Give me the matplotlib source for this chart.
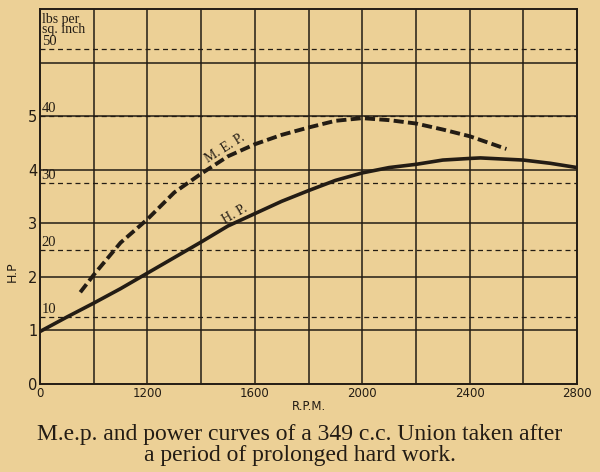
import matplotlib
matplotlib.use('Agg')
import matplotlib.pyplot as plt

# H.P. curve (solid)
hp_rpm = [800, 900, 1000, 1100, 1200, 1300, 1400, 1500, 1600, 1700, 1800,
          1900, 2000, 2100, 2200, 2300, 2400, 2440, 2600, 2700, 2800]
hp_val = [0.98, 1.25, 1.51, 1.78, 2.07, 2.36, 2.65, 2.95, 3.18, 3.41, 3.61,
          3.80, 3.94, 4.04, 4.10, 4.18, 4.21, 4.22, 4.18, 4.12, 4.04]

# M.E.P. curve (dashed), lbs per sq. inch
mep_rpm = [950, 1000, 1100, 1200, 1300, 1400, 1500, 1600, 1700, 1800,
           1900, 2000, 2100, 2200, 2300, 2400, 2537]
mep_psi = [13.7, 16.3, 21.1, 24.6, 28.6, 31.4, 34.0, 35.8, 37.2, 38.3,
           39.3, 39.7, 39.4, 38.9, 38.0, 37.0, 35.1]

x_ticks = [800, 1200, 1600, 2000, 2400, 2800]
x_tick_labels = ['0', '1200', '1600', '2000', '2400', '2800']
hp_ticks = [0, 1, 2, 3, 4, 5]
psi_ticks = [10, 20, 30, 40, 50]

bg = '#ecd096'
ink = '#231c14'
serif = 'Liberation Serif'

fig = plt.figure(figsize=(6, 4.72), dpi=100, facecolor=bg)
ax = fig.add_axes([0.0667, 0.1864, 0.895, 0.7946])
ax.set_facecolor(bg)

ax.set_xlim(800, 2800)
ax.set_ylim(0, 7)

# grid: every 200 rpm, every 1 HP
for xv in range(1000, 2800, 200):
    ax.axvline(xv, color=ink, lw=1.1, zorder=1)
for yv in range(1, 7):
    ax.axhline(yv, color=ink, lw=1.1, zorder=1)
for s in ax.spines.values():
    s.set_color(ink)
    s.set_linewidth(1.4)

# pressure scale on a twin axis (0-56 lbs/sq.in over the same height)
ax2 = ax.twinx()
ax2.set_ylim(0, 56)
for p in psi_ticks:
    ax2.axhline(p, color=ink, lw=0.9, ls=(0, (4, 3)), zorder=1)
    ax2.text(806, p + 0.2, str(p), fontsize=10.5, color=ink, ha='left', va='bottom',
             family=serif)
ax2.set_yticks([])
for s in ax2.spines.values():
    s.set_visible(False)

ax.plot(hp_rpm, hp_val, color=ink, lw=2.6, solid_capstyle='round', zorder=3)
ax2.plot(mep_rpm, mep_psi, color=ink, lw=2.8, ls=(0, (2.6, 1.1)), zorder=3)

ax.text(1470, 2.93, 'H. P.', fontsize=10, color=ink, rotation=30, ha='left', va='bottom',
        family=serif)
ax2.text(1405, 32.6, 'M. E. P.', fontsize=10, color=ink, rotation=32, ha='left', va='bottom',
         family=serif)
ax2.text(806, 52.0, 'lbs per\nsq. inch', fontsize=10, color=ink, ha='left', va='bottom',
         linespacing=0.72, family=serif)

ax.set_xticks(x_ticks)
ax.set_xticklabels(x_tick_labels, fontsize=8.5, color=ink)
ax.set_yticks(hp_ticks)
ax.set_yticklabels([str(v) for v in hp_ticks], fontsize=10.5, color=ink)
ax.tick_params(length=0, pad=2)
ax.set_xlabel('R.P.M.', fontsize=8.5, color=ink, labelpad=0)
ax.set_ylabel('H.P', fontsize=9, color=ink)
ax.yaxis.set_label_coords(-0.04, 0.30)

fig.text(0.5, 0.080, 'M.e.p. and power curves of a 349 c.c. Union taken after',
         ha='center', va='center', fontsize=17, color=ink, family=serif)
fig.text(0.5, 0.036, 'a period of prolonged hard work.',
         ha='center', va='center', fontsize=17, color=ink, family=serif)

fig.savefig('out.png', dpi=100, facecolor=bg)
